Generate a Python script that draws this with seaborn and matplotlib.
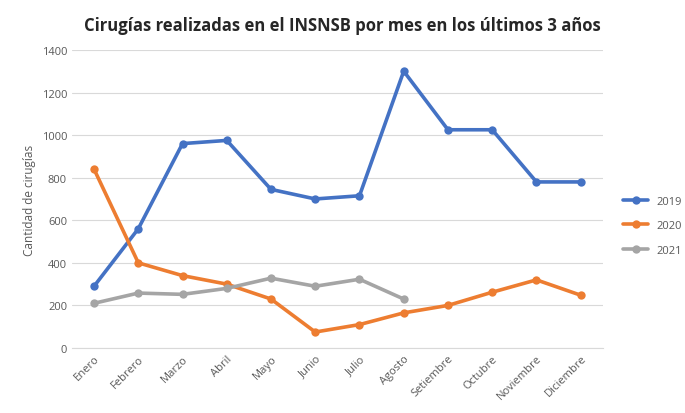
import matplotlib
matplotlib.use("Agg")
import matplotlib.pyplot as plt
import seaborn as sns
import pandas as pd

meses = ["Enero", "Febrero", "Marzo", "Abril", "Mayo", "Junio", "Julio", "Agosto",
         "Setiembre", "Octubre", "Noviembre", "Diciembre"]
y2019 = [290, 560, 960, 975, 745, 700, 715, 1300, 1025, 1025, 780, 780]
y2020 = [840, 400, 340, 300, 230, 75, 110, 165, 200, 262, 320, 248]
y2021 = [210, 258, 252, 280, 328, 290, 323, 230]

rows = []
for anio, vals in (("2019", y2019), ("2020", y2020), ("2021", y2021)):
    for i, v in enumerate(vals):
        rows.append({"mes": i, "valor": v, "anio": anio})
df = pd.DataFrame(rows)

sns.set_style("white")
plt.rcParams["font.family"] = ["Open Sans", "DejaVu Sans"]

fig = plt.figure(figsize=(6.85, 4.14), dpi=100)
ax = fig.add_axes([0.105, 0.157, 0.775, 0.72])
palette = {"2019": "#4472C4", "2020": "#ED7D31", "2021": "#A5A5A5"}
sns.lineplot(data=df, x="mes", y="valor", hue="anio", palette=palette, marker="o",
             markersize=6, markeredgewidth=0, linewidth=2.6, ax=ax)

ax.set_ylim(0, 1400)
ax.set_yticks(range(0, 1401, 200))
ax.set_xlim(-0.5, 11.5)
ax.set_xticks(range(12))
ax.set_xticklabels(meses, rotation=45, ha="right", rotation_mode="anchor")
ax.tick_params(axis="both", labelsize=8, colors="#595959", length=0)
ax.grid(axis="y", color="#D9D9D9", linewidth=0.8)
for s in ["top", "right", "left"]:
    ax.spines[s].set_visible(False)
ax.spines["bottom"].set_color("#D9D9D9")
ax.set_xlabel("")
ax.set_ylabel("Cantidad de cirugías", fontsize=8.5, color="#595959")
ax.legend(loc="center left", bbox_to_anchor=(1.02, 0.41), frameon=False, fontsize=8,
          labelcolor="#595959", handlelength=2.2, labelspacing=1.2)
fig.suptitle("Cirugías realizadas en el INSNSB por mes en los últimos 3 años",
             fontsize=12, fontweight="bold", y=0.96)
fig.savefig("out.png", dpi=100)
